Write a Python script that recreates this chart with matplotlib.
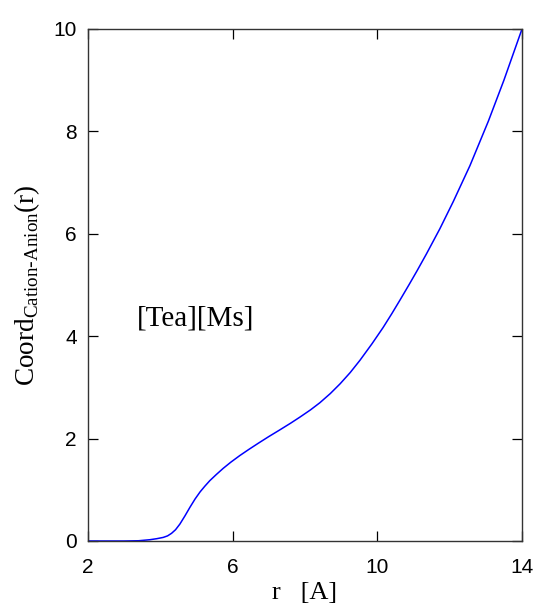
import matplotlib
matplotlib.use("Agg")
import matplotlib.pyplot as plt

# Cumulative cation-anion coordination number vs. distance
r_values = [2.0, 3.0, 3.4, 3.71, 3.9, 4.08, 4.2, 4.31, 4.42, 4.54, 4.68, 4.82,
            4.96, 5.10, 5.23, 5.37, 5.55, 5.74, 5.95, 6.20, 6.45, 6.71, 7.0,
            7.28, 7.6, 7.86, 8.15, 8.41, 8.7, 8.97, 9.25, 9.52, 9.85, 10.16,
            10.4, 10.63, 10.88, 11.1, 11.36, 11.73, 12.10, 12.56, 13.07, 13.5,
            14.0]
coord_values = [0.0, 0.0, 0.005, 0.025, 0.045, 0.07, 0.10, 0.15, 0.22, 0.33,
                0.49, 0.66, 0.82, 0.96, 1.07, 1.18, 1.30, 1.42, 1.54, 1.67,
                1.79, 1.91, 2.04, 2.16, 2.30, 2.42, 2.56, 2.70, 2.88, 3.07,
                3.29, 3.53, 3.85, 4.17, 4.44, 4.71, 5.01, 5.28, 5.61, 6.10,
                6.63, 7.33, 8.20, 9.00, 10.0]
x_ticks = [2, 6, 10, 14]
y_ticks = [0, 2, 4, 6, 8, 10]
system_label = "[Tea][Ms]"

fig = plt.figure(figsize=(5.38, 6.14), dpi=100)
ax = fig.add_axes([88 / 538, 1 - 541 / 614, (522 - 88) / 538, (541 - 29) / 614])

ax.plot(r_values, coord_values, color="#0000ff", lw=1.1)

ax.set_xlim(2, 14)
ax.set_ylim(0, 10)
ax.set_xticks(x_ticks)
ax.set_yticks(y_ticks)
ax.tick_params(direction="in", length=7, width=0.9, top=True, right=True,
               labelsize=15, color="black")
ax.tick_params(axis="x", pad=12)
ax.tick_params(axis="y", pad=8)
for lab in ax.get_xticklabels() + ax.get_yticklabels():
    lab.set_family("Liberation Sans")

for s in ax.spines.values():
    s.set_color("#333333")
    s.set_linewidth(1.0)

serif = "Liberation Serif"
ax.set_xlabel("r   [A]", family=serif, fontsize=19, labelpad=4)
ax.set_ylabel(r"Coord$_{\mathregular{Cation\text{-}Anion}}$(r)", family=serif,
              fontsize=19.5, labelpad=8)
ax.text(3.35, 4.35, system_label, family=serif, fontsize=21, va="center")

fig.savefig("out.png", dpi=100)
